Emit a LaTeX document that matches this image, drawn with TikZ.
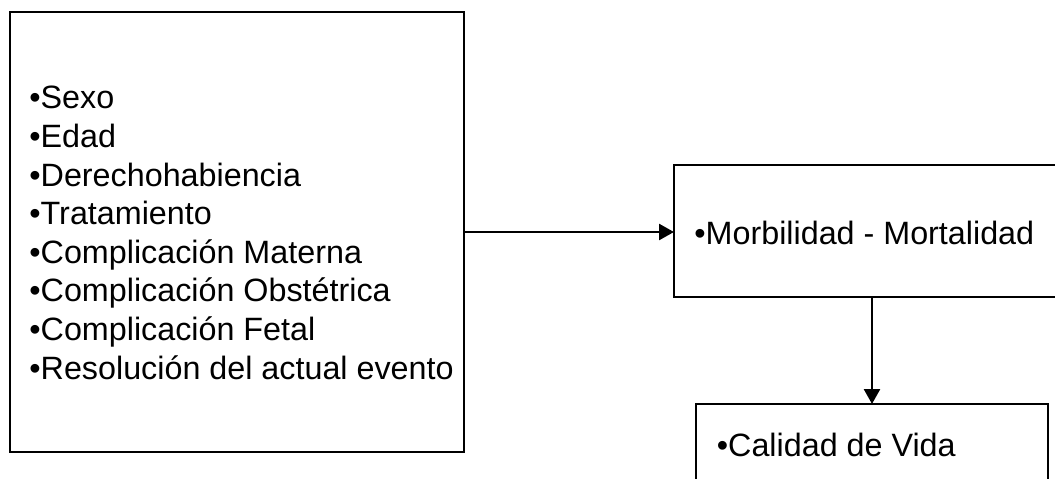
\documentclass[tikz,border=0pt]{standalone}
\usepackage{fontspec}
\setmainfont{Liberation Sans}
\usetikzlibrary{arrows.meta}
\begin{document}
\begin{tikzpicture}[x=0.5pt,y=-0.5pt,
  boxnode/.style={draw=black, line width=1.4pt, rectangle, inner sep=0pt, outer sep=0pt, anchor=north west},
  txt/.style={anchor=base west, inner sep=0pt, align=left, font=\fontsize{16.15pt}{19.29pt}\selectfont},
  conn/.style={line width=1.3pt, -{Triangle[length=7.5pt,width=8pt]}}]
\useasboundingbox (0,0) rectangle (1055,478);
\node[boxnode, minimum width=227pt, minimum height=220pt] (left) at (10,12) {};
\node[boxnode, minimum width=200pt, minimum height=66pt] (morb) at (674,165) {};
\node[boxnode, minimum width=176pt, minimum height=60pt] (cal) at (696,404) {};
\node[txt] (lefttext) at (29,379) {•Sexo\\•Edad\\•Derechohabiencia\\•Tratamiento\\•Complicación Materna\\•Complicación Obstétrica\\•Complicación Fetal\\•Resolución del actual evento};
\node[txt] (morbtext) at (694,244) {•Morbilidad - Mortalidad};
\node[txt] (caltext) at (716.5,456) {•Calidad de Vida};
\draw[conn] (left.east) -- (morb.west |- left.east);
\draw[conn] (cal.north |- morb.south) -- (cal.north);
\end{tikzpicture}
\end{document}
